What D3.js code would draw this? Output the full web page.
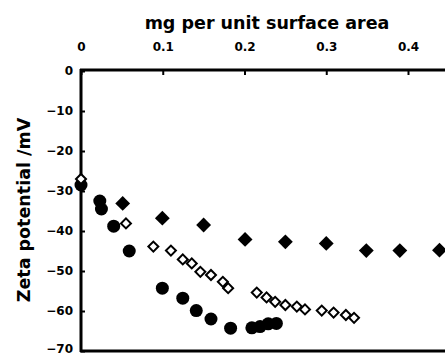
<!DOCTYPE html>
<html>
<head>
<meta charset="utf-8">
<script src="https://cdnjs.cloudflare.com/ajax/libs/d3/7.8.5/d3.min.js"></script>
<style>
  body { margin: 0; background: #fff; }
  text { font-family: "DejaVu Sans", sans-serif; font-weight: bold; }
</style>
</head>
<body>
<div id="chart"></div>
<script>
// filled circles
const circleX = [0, 0.023, 0.025, 0.04, 0.059, 0.0995, 0.1245, 0.141, 0.159, 0.183, 0.209, 0.219, 0.229, 0.239];
const circleY = [-28.5, -32.5, -34.5, -38.8, -45, -54.3, -56.8, -59.9, -62, -64.3, -64.2, -63.9, -63.2, -63.1];

// open diamonds
const openX = [0, 0.055, 0.0885, 0.110, 0.1245, 0.1355, 0.146, 0.159, 0.1735, 0.180, 0.215, 0.227, 0.2375, 0.25, 0.264, 0.274, 0.2945, 0.309, 0.324, 0.334];
const openY = [-27, -38.1, -43.9, -44.9, -47.1, -48.1, -50.2, -51, -52.7, -54.3, -55.4, -56.6, -57.7, -58.5, -58.9, -59.6, -59.9, -60.4, -61, -61.7];

// filled diamonds
const fillX = [0.051, 0.0995, 0.150, 0.2007, 0.25, 0.300, 0.349, 0.390, 0.4385];
const fillY = [-33.1, -36.8, -38.5, -42.1, -42.7, -43.1, -44.9, -44.9, -44.8];

const xTicks = [0, 0.1, 0.2, 0.3, 0.4];
const yTicks = [0, -10, -20, -30, -40, -50, -60, -70];

const width = 445, height = 355;

const svg = d3.select("#chart")
  .append("svg")
  .attr("width", width)
  .attr("height", height);

const x = d3.scaleLinear().domain([0, 0.4]).range([81, 408]);
const y = d3.scaleLinear().domain([-70, 0]).range([351, 71]);

// top axis
const topAxis = svg.append("g")
  .attr("transform", "translate(0, 70)")
  .call(d3.axisTop(x).tickValues(xTicks).tickFormat(d => d === 0 ? "0" : d3.format(".1f")(d)).tickSize(-5).tickPadding(19));
topAxis.select(".domain").remove();
topAxis.selectAll("line").attr("stroke-width", 2);
topAxis.selectAll("text").attr("font-size", 12).attr("font-family", "DejaVu Sans").attr("font-weight", "bold");
svg.append("line")
  .attr("x1", 80).attr("x2", width).attr("y1", 70).attr("y2", 70)
  .attr("stroke", "#000").attr("stroke-width", 3);

// left axis
const leftAxis = svg.append("g")
  .attr("transform", "translate(81, 0)")
  .call(d3.axisLeft(y).tickValues(yTicks).tickSize(-4).tickPadding(8));
leftAxis.select(".domain").remove();
leftAxis.selectAll("line").attr("stroke-width", 2);
leftAxis.selectAll("text").attr("font-size", 12).attr("font-family", "DejaVu Sans").attr("font-weight", "bold");
// keep the bottom label inside the picture
leftAxis.selectAll("text").filter(d => d === -70).attr("dy", "0.1em");
svg.append("line")
  .attr("x1", 81).attr("x2", 81).attr("y1", 69).attr("y2", 352)
  .attr("stroke", "#000").attr("stroke-width", 3);

// bottom line
svg.append("line")
  .attr("x1", 80).attr("x2", width).attr("y1", 351).attr("y2", 351)
  .attr("stroke", "#000").attr("stroke-width", 3);

// titles
svg.append("text")
  .attr("x", 267).attr("y", 29)
  .attr("text-anchor", "middle")
  .attr("font-size", 17.5)
  .text("mg per unit surface area");

svg.append("text")
  .attr("transform", "translate(30, 210) rotate(-90)")
  .attr("text-anchor", "middle")
  .attr("font-size", 17.5)
  .text("Zeta potential /mV");

const diamond = d3.symbol().type(d3.symbolSquare);

// filled diamonds
svg.selectAll(".fd")
  .data(fillX.map((d, i) => [d, fillY[i]]))
  .join("path")
  .attr("class", "fd")
  .attr("d", diamond.size(110))
  .attr("transform", d => `translate(${x(d[0])}, ${y(d[1])}) rotate(45)`)
  .attr("fill", "#000");

// filled circles
svg.selectAll(".fc")
  .data(circleX.map((d, i) => [d, circleY[i]]))
  .join("circle")
  .attr("class", "fc")
  .attr("cx", d => x(d[0]))
  .attr("cy", d => y(d[1]))
  .attr("r", 6.5)
  .attr("fill", "#000");

// open diamonds
svg.selectAll(".od")
  .data(openX.map((d, i) => [d, openY[i]]))
  .join("path")
  .attr("class", "od")
  .attr("d", diamond.size(50))
  .attr("transform", d => `translate(${x(d[0])}, ${y(d[1])}) rotate(45)`)
  .attr("fill", "#fff")
  .attr("stroke", "#000")
  .attr("stroke-width", 2);
</script>
</body>
</html>
